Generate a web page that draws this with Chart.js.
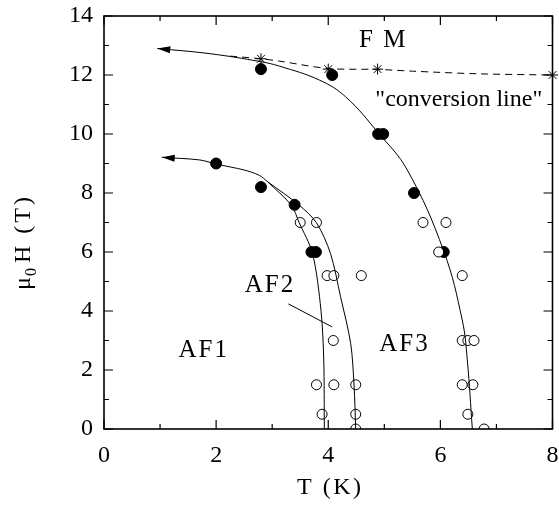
<!DOCTYPE html>
<html>
<head>
<meta charset="utf-8">
<script src="https://cdn.jsdelivr.net/npm/chart.js@4.4.0/dist/chart.umd.min.js"></script>
<style>
  body { margin: 0; background: #fff; }
</style>
</head>
<body>
<canvas id="grafico" width="559" height="508"></canvas>
<script>
// pontos cheios (T em K, mu0H em T)
const cheio_T = [2.0, 2.8, 3.4, 3.7, 3.78, 2.8, 4.07, 4.89, 4.98, 5.53, 6.06];
const cheio_H = [9.0, 8.2, 7.6, 6.0, 6.0, 12.2, 12.0, 10.0, 10.0, 8.0, 6.0];

// pontos abertos
const aberto_T = [3.5, 3.79, 5.69, 6.1, 5.97, 3.98, 4.1, 4.59, 6.39, 4.09, 6.39, 6.49, 6.6,
                  3.79, 4.1, 4.49, 6.39, 6.58, 3.89, 4.49, 6.49, 4.49, 6.78];
const aberto_H = [7.0, 7.0, 7.0, 7.0, 6.0, 5.2, 5.2, 5.2, 5.2, 3.0, 3.0, 3.0, 3.0,
                  1.5, 1.5, 1.5, 1.5, 1.5, 0.5, 0.5, 0.5, 0.0, 0.0];

// estrelas da "conversion line"
const estrela_T = [2.8, 4.0, 4.88, 8.0];
const estrela_H = [12.55, 12.2, 12.2, 12.0];

// linha tracejada
const tracejada_T = [2.25, 2.8, 3.13, 4.0, 4.88, 5.5, 6.68, 8.0];
const tracejada_H = [12.64, 12.55, 12.47, 12.22, 12.19, 12.13, 12.04, 12.0];

// curva de cima (FM)
const curvaA_T = [0.95, 1.9, 2.8, 3.13, 3.84, 4.31, 4.9, 5.41, 6.06, 6.39, 6.48, 6.57];
const curvaA_H = [12.9, 12.72, 12.45, 12.3, 11.83, 11.26, 10.02, 8.78, 6.03, 3.69, 2.34, 0];

// curva de baixo ate o ponto onde se divide
const curvaB_T = [1.03, 1.71, 2.0, 2.5, 2.77, 2.92];
const curvaB_H = [9.21, 9.12, 8.98, 8.78, 8.6, 8.38];

// ramo AF1/AF2
const ramo1_T = [2.92, 3.34, 3.48, 3.72, 3.87, 3.92, 3.93];
const ramo1_H = [8.38, 7.59, 7.0, 5.95, 4.03, 2.34, 0];

// ramo AF2/AF3
const ramo2_T = [2.92, 3.48, 3.79, 4.04, 4.22, 4.4, 4.46, 4.49];
const ramo2_H = [8.38, 7.59, 6.99, 5.95, 4.48, 2.9, 1.49, 0];

// textos dentro do grafico
const textos = [
  { txt: 'F M', T: 4.55, H: 12.95 },
  { txt: '"conversion line"', T: 4.84, H: 10.95 },
  { txt: 'AF1', T: 1.33, H: 2.44 },
  { txt: 'AF2', T: 2.51, H: 4.64 },
  { txt: 'AF3', T: 4.91, H: 2.64 }
];
// tracinho que liga AF2 a regiao
const ligacao_T = [3.29, 4.07];
const ligacao_H = [4.24, 3.46];

function pares(xs, ys) {
  return xs.map((x, i) => ({ x: x, y: ys[i] }));
}

function curva(xs, ys, extra) {
  return Object.assign({
    data: pares(xs, ys),
    showLine: true,
    borderColor: '#000',
    borderWidth: 1,
    pointRadius: 0,
    tension: 0.4,
    fill: false,
    clip: false
  }, extra || {});
}

const fonte = 'Liberation Serif';

function seta(ctx, sx, sy, xs, ys) {
  const x0 = sx.getPixelForValue(xs[0]);
  const y0 = sy.getPixelForValue(ys[0]);
  const x1 = sx.getPixelForValue(xs[1]);
  const y1 = sy.getPixelForValue(ys[1]);
  const ang = Math.atan2(y0 - y1, x0 - x1);
  const len = 13, meia = 3.5;
  ctx.save();
  ctx.translate(x0, y0);
  ctx.rotate(ang);
  ctx.beginPath();
  ctx.moveTo(0, 0);
  ctx.lineTo(-len, -meia);
  ctx.lineTo(-len, meia);
  ctx.closePath();
  ctx.fillStyle = '#000';
  ctx.fill();
  ctx.restore();
}

const moldura = {
  id: 'moldura',
  afterDraw(chart) {
    const ctx = chart.ctx;
    const a = chart.chartArea;
    const sx = chart.scales.x, sy = chart.scales.y;
    ctx.save();
    ctx.strokeStyle = '#000';
    ctx.lineWidth = 1.6;
    ctx.strokeRect(a.left, a.top, a.right - a.left, a.bottom - a.top);
    // tracinhos para dentro, nos quatro lados
    ctx.lineWidth = 1.2;
    ctx.beginPath();
    for (let v = 0; v <= 8; v++) {
      const px = sx.getPixelForValue(v);
      const len = v % 2 == 0 ? 9 : 5;
      ctx.moveTo(px, a.bottom); ctx.lineTo(px, a.bottom - len);
      ctx.moveTo(px, a.top); ctx.lineTo(px, a.top + len);
    }
    for (let v = 0; v <= 14; v++) {
      const py = sy.getPixelForValue(v);
      const len = v % 2 == 0 ? 9 : 5;
      ctx.moveTo(a.left, py); ctx.lineTo(a.left + len, py);
      ctx.moveTo(a.right, py); ctx.lineTo(a.right - len, py);
    }
    ctx.stroke();

    // setas nas pontas esquerdas
    seta(ctx, sx, sy, curvaA_T, curvaA_H);
    seta(ctx, sx, sy, curvaB_T, curvaB_H);

    // linha do AF2
    ctx.lineWidth = 1;
    ctx.beginPath();
    ctx.moveTo(sx.getPixelForValue(ligacao_T[0]), sy.getPixelForValue(ligacao_H[0]));
    ctx.lineTo(sx.getPixelForValue(ligacao_T[1]), sy.getPixelForValue(ligacao_H[1]));
    ctx.stroke();

    // textos
    ctx.fillStyle = '#000';
    ctx.textBaseline = 'alphabetic';
    ctx.textAlign = 'left';
    textos.forEach(t => {
      const conv = t.txt.indexOf('conversion') >= 0;
      ctx.font = (conv ? 24 : 25) + 'px "' + fonte + '"';
      ctx.letterSpacing = conv ? '0px' : '2px';
      ctx.fillText(t.txt, sx.getPixelForValue(t.T), sy.getPixelForValue(t.H));
    });

    // titulo do eixo x
    ctx.font = '24px "' + fonte + '"';
    ctx.letterSpacing = '2.5px';
    ctx.textAlign = 'center';
    ctx.fillText('T (K)', (a.left + a.right) / 2 + 2, 494);

    // titulo do eixo y, com subscrito
    ctx.translate(30, 242);
    ctx.rotate(-Math.PI / 2);
    ctx.textAlign = 'left';
    ctx.letterSpacing = '3px';
    ctx.font = '24px "' + fonte + '"';
    const w1 = ctx.measureText('\u03bc').width;
    const w3 = ctx.measureText('H (T)').width;
    ctx.font = '16px "' + fonte + '"';
    const w2 = ctx.measureText('0').width;
    let x = -(w1 + w2 + w3) / 2;
    ctx.font = '24px "' + fonte + '"';
    ctx.fillText('\u03bc', x, 0);
    x += w1;
    ctx.font = '16px "' + fonte + '"';
    ctx.fillText('0', x - 2, 6);
    x += w2;
    ctx.font = '24px "' + fonte + '"';
    ctx.fillText('H (T)', x, 0);
    ctx.restore();
  }
};

new Chart(document.getElementById('grafico'), {
  type: 'scatter',
  data: {
    datasets: [
      curva(curvaA_T, curvaA_H),
      curva(curvaB_T, curvaB_H, { tension: 0.3 }),
      curva(ramo1_T, ramo1_H, { tension: 0.3 }),
      curva(ramo2_T, ramo2_H, { tension: 0.3 }),
      curva(tracejada_T, tracejada_H, { borderDash: [7, 5], tension: 0.3 }),
      {
        data: pares(aberto_T, aberto_H),
        pointRadius: 5,
        pointStyle: 'circle',
        backgroundColor: '#fff',
        borderColor: '#000',
        borderWidth: 1,
        clip: { left: 10, top: 10, right: 10, bottom: 0 }
      },
      {
        data: pares(cheio_T, cheio_H),
        pointRadius: 5.5,
        pointStyle: 'circle',
        backgroundColor: '#000',
        borderColor: '#000',
        borderWidth: 1,
        clip: false
      },
      {
        data: pares(estrela_T, estrela_H),
        pointRadius: 5.5,
        pointStyle: 'star',
        backgroundColor: '#000',
        borderColor: '#000',
        borderWidth: 1,
        clip: false
      }
    ]
  },
  options: {
    responsive: false,
    animation: false,
    devicePixelRatio: 1,
    layout: { padding: { top: 16, right: 5, left: 0, bottom: 0 } },
    plugins: { legend: { display: false }, tooltip: { enabled: false } },
    scales: {
      x: {
        type: 'linear', min: 0, max: 8,
        grid: { display: false, drawTicks: false },
        border: { display: false },
        ticks: { stepSize: 2, padding: 12, color: '#000', font: { family: fonte, size: 24 } },
        afterFit(s) { s.height = 79; s.paddingLeft = 0; s.paddingRight = 0; }
      },
      y: {
        type: 'linear', min: 0, max: 14,
        grid: { display: false, drawTicks: false },
        border: { display: false },
        ticks: { stepSize: 2, padding: 11, color: '#000', font: { family: fonte, size: 24 } },
        afterFit(s) { s.width = 104; s.paddingTop = 0; s.paddingBottom = 0; }
      }
    }
  },
  plugins: [moldura]
});
</script>
</body>
</html>
